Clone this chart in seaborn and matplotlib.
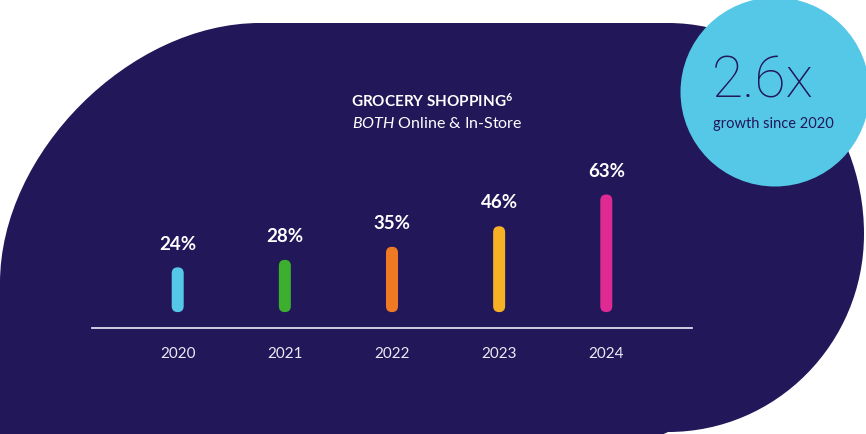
import numpy as np
import seaborn as sns
import matplotlib.pyplot as plt
from matplotlib.path import Path
from matplotlib.patches import PathPatch, Circle, FancyBboxPatch

# chart data
years = ["2020", "2021", "2022", "2023", "2024"]
shares = [24, 28, 35, 46, 63]
bar_colors = ["#55C8E8", "#3DAF2E", "#F07A24", "#F7B125", "#DE2A92"]
title = "GROCERY SHOPPING"
subtitle_rest = " Online & In-Store"
growth_big = "2.6x"
growth_small = "growth since 2020"

navy = "#211759"
light_blue = "#55C8E8"

sns.set_style("white")
plt.rcParams["font.family"] = ["Lato", "DejaVu Sans"]
plt.rcParams["mathtext.fontset"] = "custom"
plt.rcParams["mathtext.rm"] = "Lato"
plt.rcParams["mathtext.it"] = "Lato:italic"
plt.rcParams["mathtext.bf"] = "Lato:bold"

fig = plt.figure(figsize=(8.66, 4.35), dpi=100)
fig.patch.set_facecolor("white")

# background shape, in pixel coordinates
bg = fig.add_axes([0, 0, 1, 1], zorder=0)
bg.set_xlim(0, 866)
bg.set_ylim(435, 0)
bg.axis("off")

k = 0.5
r = 260
cx, cy, rr = 668, 235, 196
ry_top = cy - 24
ry_bot = 198
c = 0.5523
verts = [
    (0, 440), (0, 284),
    (0, 284 - k * r), (r - k * r, 24), (r, 24),
    (cx, 24),
    (cx + c * rr, 24), (cx + rr, cy - c * ry_top), (cx + rr, cy),
    (cx + rr, cy + c * ry_bot), (cx + c * rr, cy + ry_bot), (cx, cy + ry_bot),
    (cx - 15, 440), (0, 440),
]
codes = [Path.MOVETO, Path.LINETO,
         Path.CURVE4, Path.CURVE4, Path.CURVE4,
         Path.LINETO,
         Path.CURVE4, Path.CURVE4, Path.CURVE4,
         Path.CURVE4, Path.CURVE4, Path.CURVE4,
         Path.LINETO, Path.CLOSEPOLY]
bg.add_patch(PathPatch(Path(verts, codes), facecolor=navy, edgecolor="none"))

bg.add_patch(Circle((775, 93), 94.5, facecolor=light_blue, edgecolor="none"))
bg.text(763, 82, growth_big, color=navy, fontsize=41, fontweight="light",
        family=["Roboto", "DejaVu Sans"], ha="center", va="center")
bg.text(773, 124, growth_small, color=navy, fontsize=10.5,
        ha="center", va="center")

bg.text(432, 101, title + r"$^{\mathbf{6}}$", color="white", fontsize=11,
        fontweight="bold", ha="center", va="center")
bg.text(437, 123, r"$\mathit{BOTH}$" + subtitle_rest, color="white",
        fontsize=11.5, ha="center", va="center")

# bar chart
ax = fig.add_axes([92 / 866, 1 - 329 / 435, 600 / 866, 169 / 435], zorder=1)
ax.set_facecolor("none")
sns.barplot(x=years, y=shares, hue=years, palette=bar_colors, width=0.112,
            saturation=1, legend=False, ax=ax)
ax.set_xlim(-0.8, 4.8)
ax.set_ylim(-8.5, 82)

fig.canvas.draw()
p0 = ax.transData.transform((0, 0))
p1 = ax.transData.transform((1, 1))
aspect = (p1[0] - p0[0]) / (p1[1] - p0[1])

for bar in list(ax.patches):
    x, y = bar.get_x(), bar.get_y()
    w, h = bar.get_width(), bar.get_height()
    col = bar.get_facecolor()
    bar.remove()
    ax.add_patch(FancyBboxPatch((x, y), w, h,
                                boxstyle=f"round,pad=0,rounding_size={w / 2}",
                                mutation_aspect=aspect,
                                facecolor=col, edgecolor="none"))

for i, v in enumerate(shares):
    ax.annotate(f"{v}%", (i, v), xytext=(0, 17.5), textcoords="offset points",
                ha="center", va="center", color="white", fontsize=13.5,
                fontweight="bold")

for s in ["top", "left", "right"]:
    ax.spines[s].set_visible(False)
ax.spines["bottom"].set_color("#DCDAEA")
ax.spines["bottom"].set_linewidth(1.3)
ax.set_yticks([])
ax.tick_params(axis="x", length=0, pad=13, labelcolor="#ECEBF4", labelsize=11)
ax.set_xlabel("")
ax.set_ylabel("")

fig.savefig("out.png", dpi=100, facecolor="white")
